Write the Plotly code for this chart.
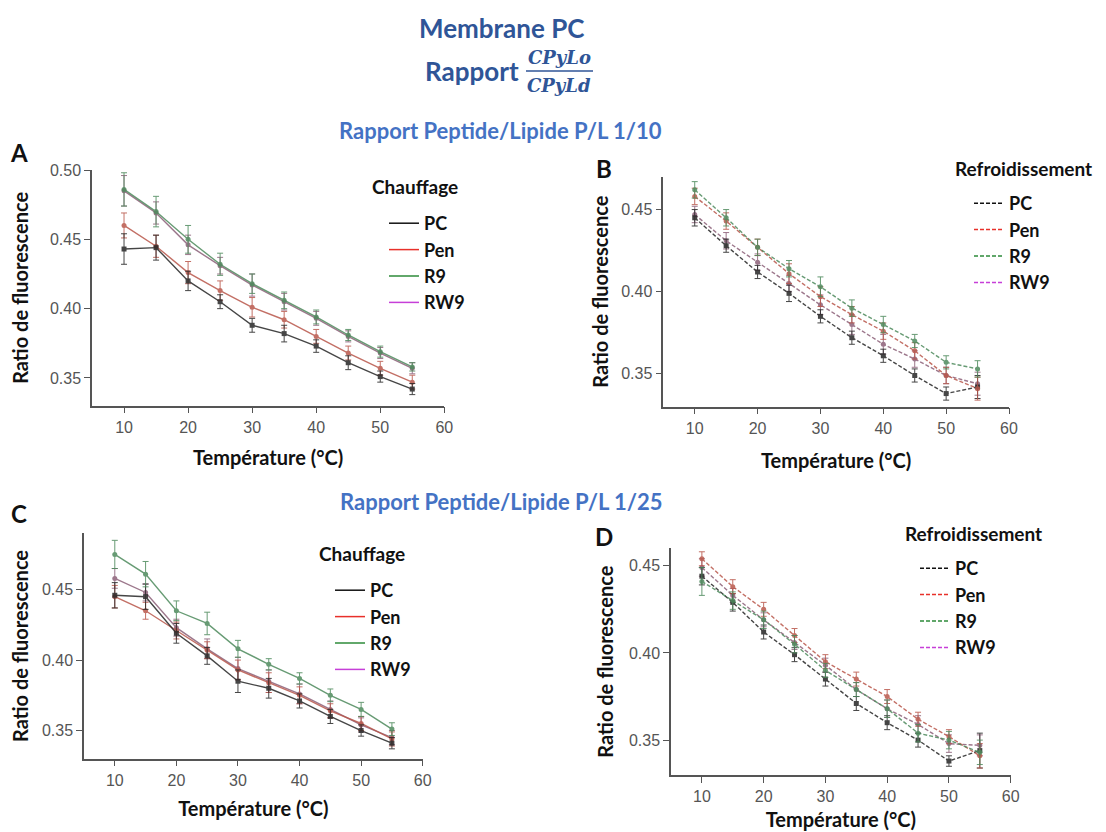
import plotly.graph_objects as go

# page body has an 8px margin: the figure is offset by 8px inside the window
W, H = 1098, 824
OFF = 8

temps = [10, 15, 20, 25, 30, 35, 40, 45, 50, 55]
series = ["PC", "Pen", "R9", "RW9"]

# Panel A : P/L 1/10, Chauffage
a_pc = [0.443, 0.444, 0.420, 0.405, 0.388, 0.382, 0.373, 0.361, 0.351, 0.342]
a_pen = [0.460, 0.445, 0.426, 0.413, 0.401, 0.392, 0.380, 0.368, 0.357, 0.347]
a_r9 = [0.486, 0.470, 0.450, 0.432, 0.418, 0.406, 0.394, 0.381, 0.369, 0.358]
a_rw9 = [0.485, 0.469, 0.446, 0.431, 0.417, 0.405, 0.393, 0.380, 0.368, 0.357]
a_pc_err = [0.011, 0.009, 0.007, 0.005, 0.005, 0.006, 0.0045, 0.005, 0.004, 0.004]
a_pen_err = [0.009, 0.008, 0.008, 0.007, 0.007, 0.006, 0.005, 0.005, 0.005, 0.005]
a_r9_err = [0.012, 0.011, 0.010, 0.008, 0.007, 0.006, 0.005, 0.004, 0.004, 0.003]
a_rw9_err = [0.011, 0.008, 0.007, 0.006, 0.008, 0.006, 0.005, 0.004, 0.004, 0.004]

# Panel B : P/L 1/10, Refroidissement
b_pc = [0.445, 0.428, 0.412, 0.399, 0.385, 0.372, 0.361, 0.349, 0.338, 0.342]
b_pen = [0.458, 0.443, 0.427, 0.411, 0.397, 0.386, 0.376, 0.364, 0.349, 0.341]
b_r9 = [0.462, 0.445, 0.427, 0.414, 0.403, 0.390, 0.380, 0.370, 0.357, 0.353]
b_rw9 = [0.447, 0.431, 0.418, 0.405, 0.392, 0.380, 0.368, 0.359, 0.349, 0.344]
b_pc_err = [0.005, 0.004, 0.004, 0.005, 0.004, 0.004, 0.004, 0.004, 0.004, 0.007]
b_pen_err = [0.005, 0.005, 0.005, 0.006, 0.006, 0.005, 0.005, 0.005, 0.005, 0.007]
b_r9_err = [0.005, 0.005, 0.005, 0.005, 0.006, 0.005, 0.005, 0.004, 0.004, 0.005]
b_rw9_err = [0.005, 0.005, 0.005, 0.005, 0.006, 0.006, 0.006, 0.005, 0.005, 0.007]

# Panel C : P/L 1/25, Chauffage
c_pc = [0.446, 0.445, 0.419, 0.403, 0.385, 0.380, 0.371, 0.360, 0.350, 0.341]
c_pen = [0.445, 0.435, 0.421, 0.407, 0.393, 0.384, 0.375, 0.364, 0.355, 0.344]
c_r9 = [0.475, 0.461, 0.435, 0.426, 0.408, 0.397, 0.387, 0.375, 0.365, 0.351]
c_rw9 = [0.458, 0.448, 0.423, 0.408, 0.394, 0.385, 0.376, 0.365, 0.354, 0.345]
c_pc_err = [0.009, 0.009, 0.007, 0.006, 0.008, 0.007, 0.005, 0.005, 0.004, 0.004]
c_pen_err = [0.008, 0.006, 0.006, 0.006, 0.007, 0.007, 0.006, 0.005, 0.005, 0.005]
c_r9_err = [0.010, 0.009, 0.007, 0.008, 0.006, 0.004, 0.004, 0.0045, 0.005, 0.0045]
c_rw9_err = [0.007, 0.006, 0.006, 0.007, 0.008, 0.008, 0.007, 0.006, 0.005, 0.005]

# Panel D : P/L 1/25, Refroidissement
d_pc = [0.444, 0.429, 0.412, 0.399, 0.385, 0.371, 0.360, 0.350, 0.338, 0.344]
d_pen = [0.454, 0.438, 0.425, 0.410, 0.395, 0.385, 0.375, 0.362, 0.352, 0.341]
d_r9 = [0.441, 0.430, 0.419, 0.405, 0.390, 0.379, 0.368, 0.354, 0.350, 0.343]
d_rw9 = [0.449, 0.433, 0.419, 0.406, 0.393, 0.379, 0.368, 0.359, 0.348, 0.347]
d_pc_err = [0.005, 0.005, 0.004, 0.004, 0.004, 0.004, 0.004, 0.004, 0.003, 0.010]
d_pen_err = [0.004, 0.004, 0.004, 0.004, 0.004, 0.004, 0.004, 0.004, 0.004, 0.007]
d_r9_err = [0.008, 0.005, 0.005, 0.005, 0.004, 0.004, 0.005, 0.005, 0.005, 0.007]
d_rw9_err = [0.005, 0.004, 0.004, 0.004, 0.004, 0.004, 0.005, 0.005, 0.005, 0.006]

x_ticks = [10, 20, 30, 40, 50, 60]
x_range = [5, 60]
y_ranges = {"A": [0.33, 0.50], "B": [0.33, 0.47], "C": [0.33, 0.49], "D": [0.33, 0.46]}
y_ticks = {"A": [0.35, 0.40, 0.45, 0.50], "B": [0.35, 0.40, 0.45],
           "C": [0.35, 0.40, 0.45], "D": [0.35, 0.40, 0.45]}

legend_colors = {"PC": "#111111", "Pen": "#e8302a", "R9": "#2e8b3a", "RW9": "#c63fd8"}
data_colors = {"PC": "#262626", "Pen": "#b9574b", "R9": "#4d8a5c", "RW9": "#8c6078"}

def px(x):
    return (x - OFF) / W

def py(y):
    return 1 - (y - OFF) / H

# panel pixel boxes in window pixels: (left, right, top, bottom)
boxes = {
    "A": (92, 444.3, 170, 405.7),
    "B": (663.3, 1009, 176.7, 406.7),
    "C": (84, 422.7, 533.3, 758.7),
    "D": (671, 1010.7, 548.3, 775),
}

panels = {
    "A": ([a_pc, a_pen, a_r9, a_rw9], [a_pc_err, a_pen_err, a_r9_err, a_rw9_err], "solid", "legend", "Chauffage"),
    "B": ([b_pc, b_pen, b_r9, b_rw9], [b_pc_err, b_pen_err, b_r9_err, b_rw9_err], "4px,2px", "legend2", "Refroidissement"),
    "C": ([c_pc, c_pen, c_r9, c_rw9], [c_pc_err, c_pen_err, c_r9_err, c_rw9_err], "solid", "legend3", "Chauffage"),
    "D": ([d_pc, d_pen, d_r9, d_rw9], [d_pc_err, d_pen_err, d_r9_err, d_rw9_err], "4px,2px", "legend4", "Refroidissement"),
}

fig = go.Figure()
axis_ids = {"A": ("x", "y"), "B": ("x2", "y2"), "C": ("x3", "y3"), "D": ("x4", "y4")}
ytitle_standoff = {"A": 22, "B": 7, "C": 16, "D": 10}
xtitle_standoff = {"A": 16, "B": 18, "C": 14, "D": 9}

for key, (vals, errs, dash, leg, _) in panels.items():
    xa, ya = axis_ids[key]
    order = [3, 1, 0, 2] if key in ("A", "C") else [3, 0, 1, 2]
    for i in order:
        name = series[i]
        fig.add_trace(go.Scatter(
            x=temps, y=vals[i], mode="lines+markers", name=name,
            line=dict(color=data_colors[name], width=1.4, dash=dash),
            marker=dict(color=data_colors[name], size=5, symbol="square" if name == "PC" else "circle"),
            error_y=dict(type="data", array=errs[i], visible=True,
                         color=data_colors[name], thickness=1, width=3),
            xaxis=xa, yaxis=ya, showlegend=False, opacity=0.85,
        ))
    for name in series:
        fig.add_trace(go.Scatter(
            x=[None], y=[None], mode="lines", name=name,
            line=dict(color=legend_colors[name], width=1.5, dash=dash),
            xaxis=xa, yaxis=ya, showlegend=True, legend=leg,
        ))

tick_font = dict(family="Liberation Sans, Arial", size=16, color="#555555")
title_font = dict(family="Lato", size=20, color="#111111", weight="bold")

layout = dict(
    width=W, height=H, margin=dict(l=0, r=0, t=0, b=0, autoexpand=False),
    paper_bgcolor="white", plot_bgcolor="white", showlegend=True,
)
for key, (l, r, t, b) in boxes.items():
    xa, ya = axis_ids[key]
    xname = "xaxis" if xa == "x" else "xaxis" + xa[1:]
    yname = "yaxis" if ya == "y" else "yaxis" + ya[1:]
    layout[xname] = dict(
        domain=[px(l), px(r)], anchor=ya, range=x_range, tickvals=x_ticks,
        showline=True, linecolor="#555555", linewidth=1.5, ticks="outside",
        ticklen=6, tickcolor="#555555", showgrid=False, zeroline=False,
        tickfont=tick_font, automargin=False,
        title=dict(text="Température (°C)", font=title_font, standoff=xtitle_standoff[key]),
    )
    layout[yname] = dict(
        domain=[py(b), py(t)], anchor=xa, range=y_ranges[key], tickvals=y_ticks[key],
        tickformat=".2f", showline=True, linecolor="#555555", linewidth=1.5,
        ticks="outside", ticklen=6, tickcolor="#555555", showgrid=False,
        zeroline=False, tickfont=tick_font, automargin=False,
        title=dict(text="Ratio de fluorescence", font=title_font, standoff=ytitle_standoff[key]),
    )

# legend: (left x, first item centre y) in window pixels
legend_pos = {"legend": (384, 222), "legend2": (969, 202), "legend3": (330, 589), "legend4": (915, 567)}
for key, (lx, ly) in legend_pos.items():
    layout[key] = dict(
        x=px(lx), y=py(ly - 17), xanchor="left", yanchor="top",
        bgcolor="rgba(0,0,0,0)", tracegroupgap=0,
        font=dict(family="Lato", size=18, color="#111111", weight="bold"),
    )

fig.update_layout(**layout)

dark_blue = "#2f5597"
light_blue = "#4472c4"
ann = [
    dict(text="<b>Membrane PC</b>", x=px(501), y=py(28), font=dict(family="Lato", size=26, color=dark_blue)),
    dict(text="<b>Rapport</b>", x=px(472), y=py(71), font=dict(family="Lato", size=26, color=dark_blue)),
    dict(text="<b><i>CPyLo</i></b>", x=px(559), y=py(57), font=dict(family="DejaVu Serif", size=18, color=dark_blue)),
    dict(text="<b><i>CPyLd</i></b>", x=px(559), y=py(85), font=dict(family="DejaVu Serif", size=18, color=dark_blue)),
    dict(text="<b>Rapport Peptide/Lipide P/L 1/10</b>", x=px(500), y=py(130), font=dict(family="Lato", size=22, color=light_blue)),
    dict(text="<b>Rapport Peptide/Lipide P/L 1/25</b>", x=px(501), y=py(502), font=dict(family="Lato", size=22, color=light_blue)),
    dict(text="<b>A</b>", x=px(19), y=py(152), font=dict(family="Lato", size=24, color="#111111")),
    dict(text="<b>B</b>", x=px(604), y=py(168), font=dict(family="Lato", size=24, color="#111111")),
    dict(text="<b>C</b>", x=px(19), y=py(513), font=dict(family="Lato", size=24, color="#111111")),
    dict(text="<b>D</b>", x=px(604), y=py(536), font=dict(family="Lato", size=24, color="#111111")),
]
for a in ann:
    fig.add_annotation(xref="paper", yref="paper", showarrow=False, xanchor="center", yanchor="middle", **a)

# legend titles
legend_titles = [("Chauffage", 370, 187), ("Refroidissement", 953, 168),
                 ("Chauffage", 317, 553), ("Refroidissement", 903, 533)]
for txt, lx, ly in legend_titles:
    fig.add_annotation(xref="paper", yref="paper", showarrow=False, xanchor="left", yanchor="middle",
                       x=px(lx), y=py(ly), text="<b>" + txt + "</b>",
                       font=dict(family="Lato", size=19, color="#111111"))

fig.add_shape(type="line", xref="paper", yref="paper", x0=px(526), x1=px(593), y0=py(71), y1=py(71),
              line=dict(color=dark_blue, width=1.5))

fig.write_html("out.html")
